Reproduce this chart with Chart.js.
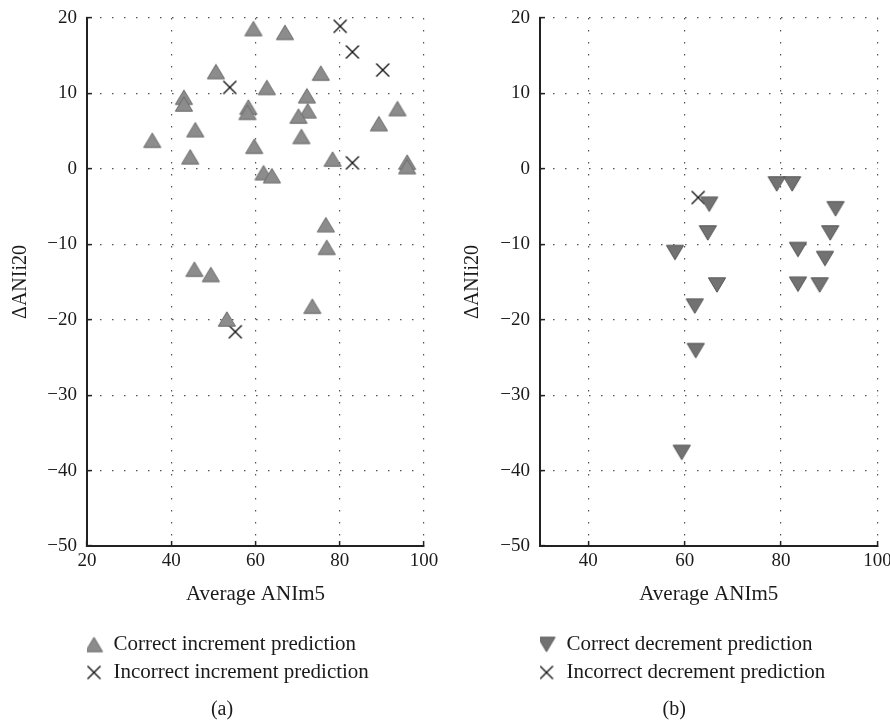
<!DOCTYPE html>
<html>
<head>
<meta charset="utf-8">
<script src="https://cdn.jsdelivr.net/npm/chart.js@4.4.0/dist/chart.umd.min.js"></script>
<style>
  body { margin: 0; background: #fff; }
  #wrap { position: relative; width: 890px; height: 722px; overflow: hidden; }
  canvas { position: absolute; top: 0; }
  #chartA { left: 0; }
  #chartB { left: 450px; }
</style>
</head>
<body>
<div id="wrap">
  <canvas id="chartA" width="445" height="722"></canvas>
  <canvas id="chartB" width="440" height="722"></canvas>
</div>
<script>
// (a) increment predictions
const incOkX = [59.5, 67.0, 50.6, 75.5, 62.7, 43.0, 43.0, 72.2, 58.3, 58.1, 72.4, 70.2, 93.7, 89.3, 45.7,
                35.5, 70.9, 59.7, 44.5, 78.3, 96.0, 96.0, 61.9, 63.9, 76.7, 76.9, 45.5, 49.4, 73.5, 53.2];
const incOkY = [18.6, 18.1, 12.9, 12.7, 10.8, 9.5, 8.6, 9.7, 8.2, 7.5, 7.7, 7.0, 8.0, 6.0, 5.2,
                3.8, 4.3, 3.0, 1.6, 1.3, 0.9, 0.3, -0.5, -0.9, -7.4, -10.4, -13.3, -14.0, -18.2, -19.9];
const incBadX = [80.1, 83.0, 90.2, 53.9, 83.0, 55.2];
const incBadY = [18.9, 15.5, 13.1, 10.8, 0.8, -21.6];

// (b) decrement predictions
const decOkX = [79.1, 82.3, 65.1, 91.3, 64.8, 90.2, 58.0, 83.5, 89.1, 66.7, 83.5, 88.0, 62.1, 62.3, 59.4];
const decOkY = [-2.0, -2.0, -4.7, -5.3, -8.5, -8.5, -11.1, -10.7, -11.9, -15.4, -15.3, -15.4, -18.2, -24.1, -37.6];
const decBadX = [62.8];
const decBadY = [-3.8];

const xTicksA = [20, 40, 60, 80, 100];
const xTicksB = [40, 60, 80, 100];
const yTicks = [-50, -40, -30, -20, -10, 0, 10, 20];

const serif = "'Liberation Serif', 'Times New Roman', serif";
const ink = '#1a1a1a';

// marker images, centred on the point (shift moves the glyph inside the image, used for the legend)
function makeMarker(kind, shift) {
    const c = document.createElement('canvas');
    c.width = 30;
    c.height = 20;
    const g = c.getContext('2d');
    const cx = 15 + shift, cy = 10;
    if (kind === 'x') {
        const r = 6.5;
        g.beginPath();
        g.moveTo(cx - r, cy - r); g.lineTo(cx + r, cy + r);
        g.moveTo(cx + r, cy - r); g.lineTo(cx - r, cy + r);
        g.lineWidth = 1.4;
        g.strokeStyle = '#111';
        g.stroke();
        return c;
    }
    const hw = 8.6, hh = 7.2;
    const s = kind === 'up' ? 1 : -1;
    g.beginPath();
    g.moveTo(cx, cy - s * hh);
    g.lineTo(cx + hw, cy + s * hh);
    g.lineTo(cx - hw, cy + s * hh);
    g.closePath();
    g.fillStyle = kind === 'up' ? '#8c8c8c' : '#727272';
    g.fill();
    g.lineWidth = 1;
    g.strokeStyle = kind === 'up' ? '#6b6b6b' : '#555555';
    g.stroke();
    return c;
}

const pts = (xs, ys) => xs.map((x, i) => ({ x: x, y: ys[i] }));
const fmt = v => (v < 0 ? '\u2212' + Math.abs(v) : String(v));

function xScale(min, tickList) {
    return {
        type: 'linear', min: min, max: 100,
        afterBuildTicks: s => { s.ticks = tickList.map(v => ({ value: v })); },
        afterFit: s => { s.height = 81; s.paddingLeft = 0; s.paddingRight = 0; },
        border: { display: true, color: '#222', width: 2, dash: [1.5, 10.5] },
        grid: { color: '#555', lineWidth: 1.2, tickLength: -5, tickColor: '#222', tickWidth: 1.5 },
        ticks: { padding: 9, color: ink, font: { family: serif, size: 19 }, maxRotation: 0, callback: v => fmt(v) },
        title: { display: true, text: 'Average ANIm5', color: ink, font: { family: serif, size: 21 },
                 padding: { top: 0, bottom: 20 } }
    };
}

function yScale(width, titlePad) {
    return {
        type: 'linear', min: -50, max: 20,
        afterBuildTicks: s => { s.ticks = yTicks.map(v => ({ value: v })); },
        afterFit: s => { s.width = width; s.paddingTop = 0; s.paddingBottom = 0; },
        border: { display: true, color: '#222', width: 2, dash: [1.5, 10.5] },
        grid: { color: '#555', lineWidth: 1.2, tickLength: -5, tickColor: '#222', tickWidth: 1.5 },
        ticks: { padding: 15, color: ink, font: { family: serif, size: 19 }, callback: v => fmt(v) },
        title: { display: true, text: '\u0394ANIi20', color: ink, font: { family: serif, size: 20 },
                 padding: { top: titlePad, bottom: 0 } }
    };
}

function makeChart(id, cfg) {
    const legendMarks = [makeMarker(cfg.kind, cfg.legendShift), makeMarker('x', cfg.legendShift)];
    return new Chart(document.getElementById(id), {
        type: 'scatter',
        data: {
            datasets: [
                { label: cfg.labels[0], data: cfg.ok, pointStyle: makeMarker(cfg.kind, 0), pointRadius: 7 },
                { label: cfg.labels[1], data: cfg.bad, pointStyle: makeMarker('x', 0), pointRadius: 7 }
            ]
        },
        options: {
            responsive: false,
            animation: false,
            events: [],
            layout: { padding: cfg.padding },
            scales: { x: xScale(cfg.xMin, cfg.xTicks), y: yScale(cfg.yWidth, cfg.yTitlePad) },
            plugins: {
                tooltip: { enabled: false },
                legend: {
                    position: 'bottom',
                    align: 'start',
                    fullSize: false,
                    labels: {
                        usePointStyle: true,
                        boxWidth: 9,
                        padding: 7,
                        color: ink,
                        font: { family: serif, size: 21 },
                        generateLabels: chart => {
                            const items = Chart.defaults.plugins.legend.labels.generateLabels(chart);
                            items.forEach((it, i) => { it.pointStyle = legendMarks[i]; });
                            return items;
                        }
                    }
                },
                title: {
                    display: true,
                    position: 'bottom',
                    text: cfg.tag,
                    color: ink,
                    font: { family: serif, size: 20, weight: 'normal' },
                    padding: { top: 5, bottom: 0 }
                }
            }
        }
    });
}

makeChart('chartA', {
    kind: 'up',
    labels: ['Correct increment prediction', 'Incorrect increment prediction'],
    ok: pts(incOkX, incOkY),
    bad: pts(incBadX, incBadY),
    xMin: 20, xTicks: xTicksA,
    yWidth: 67, yTitlePad: -11,
    padding: { left: 20, right: 21, top: 18, bottom: 0 },
    legendShift: -4.5,
    tag: '(a)'
});

makeChart('chartB', {
    kind: 'down',
    labels: ['Correct decrement prediction', 'Incorrect decrement prediction'],
    ok: pts(decOkX, decOkY),
    bad: pts(decBadX, decBadY),
    xMin: 30, xTicks: xTicksB,
    yWidth: 69, yTitlePad: -10,
    padding: { left: 21, right: 12.5, top: 18, bottom: 0 },
    legendShift: -5,
    tag: '(b)'
});
</script>
</body>
</html>
